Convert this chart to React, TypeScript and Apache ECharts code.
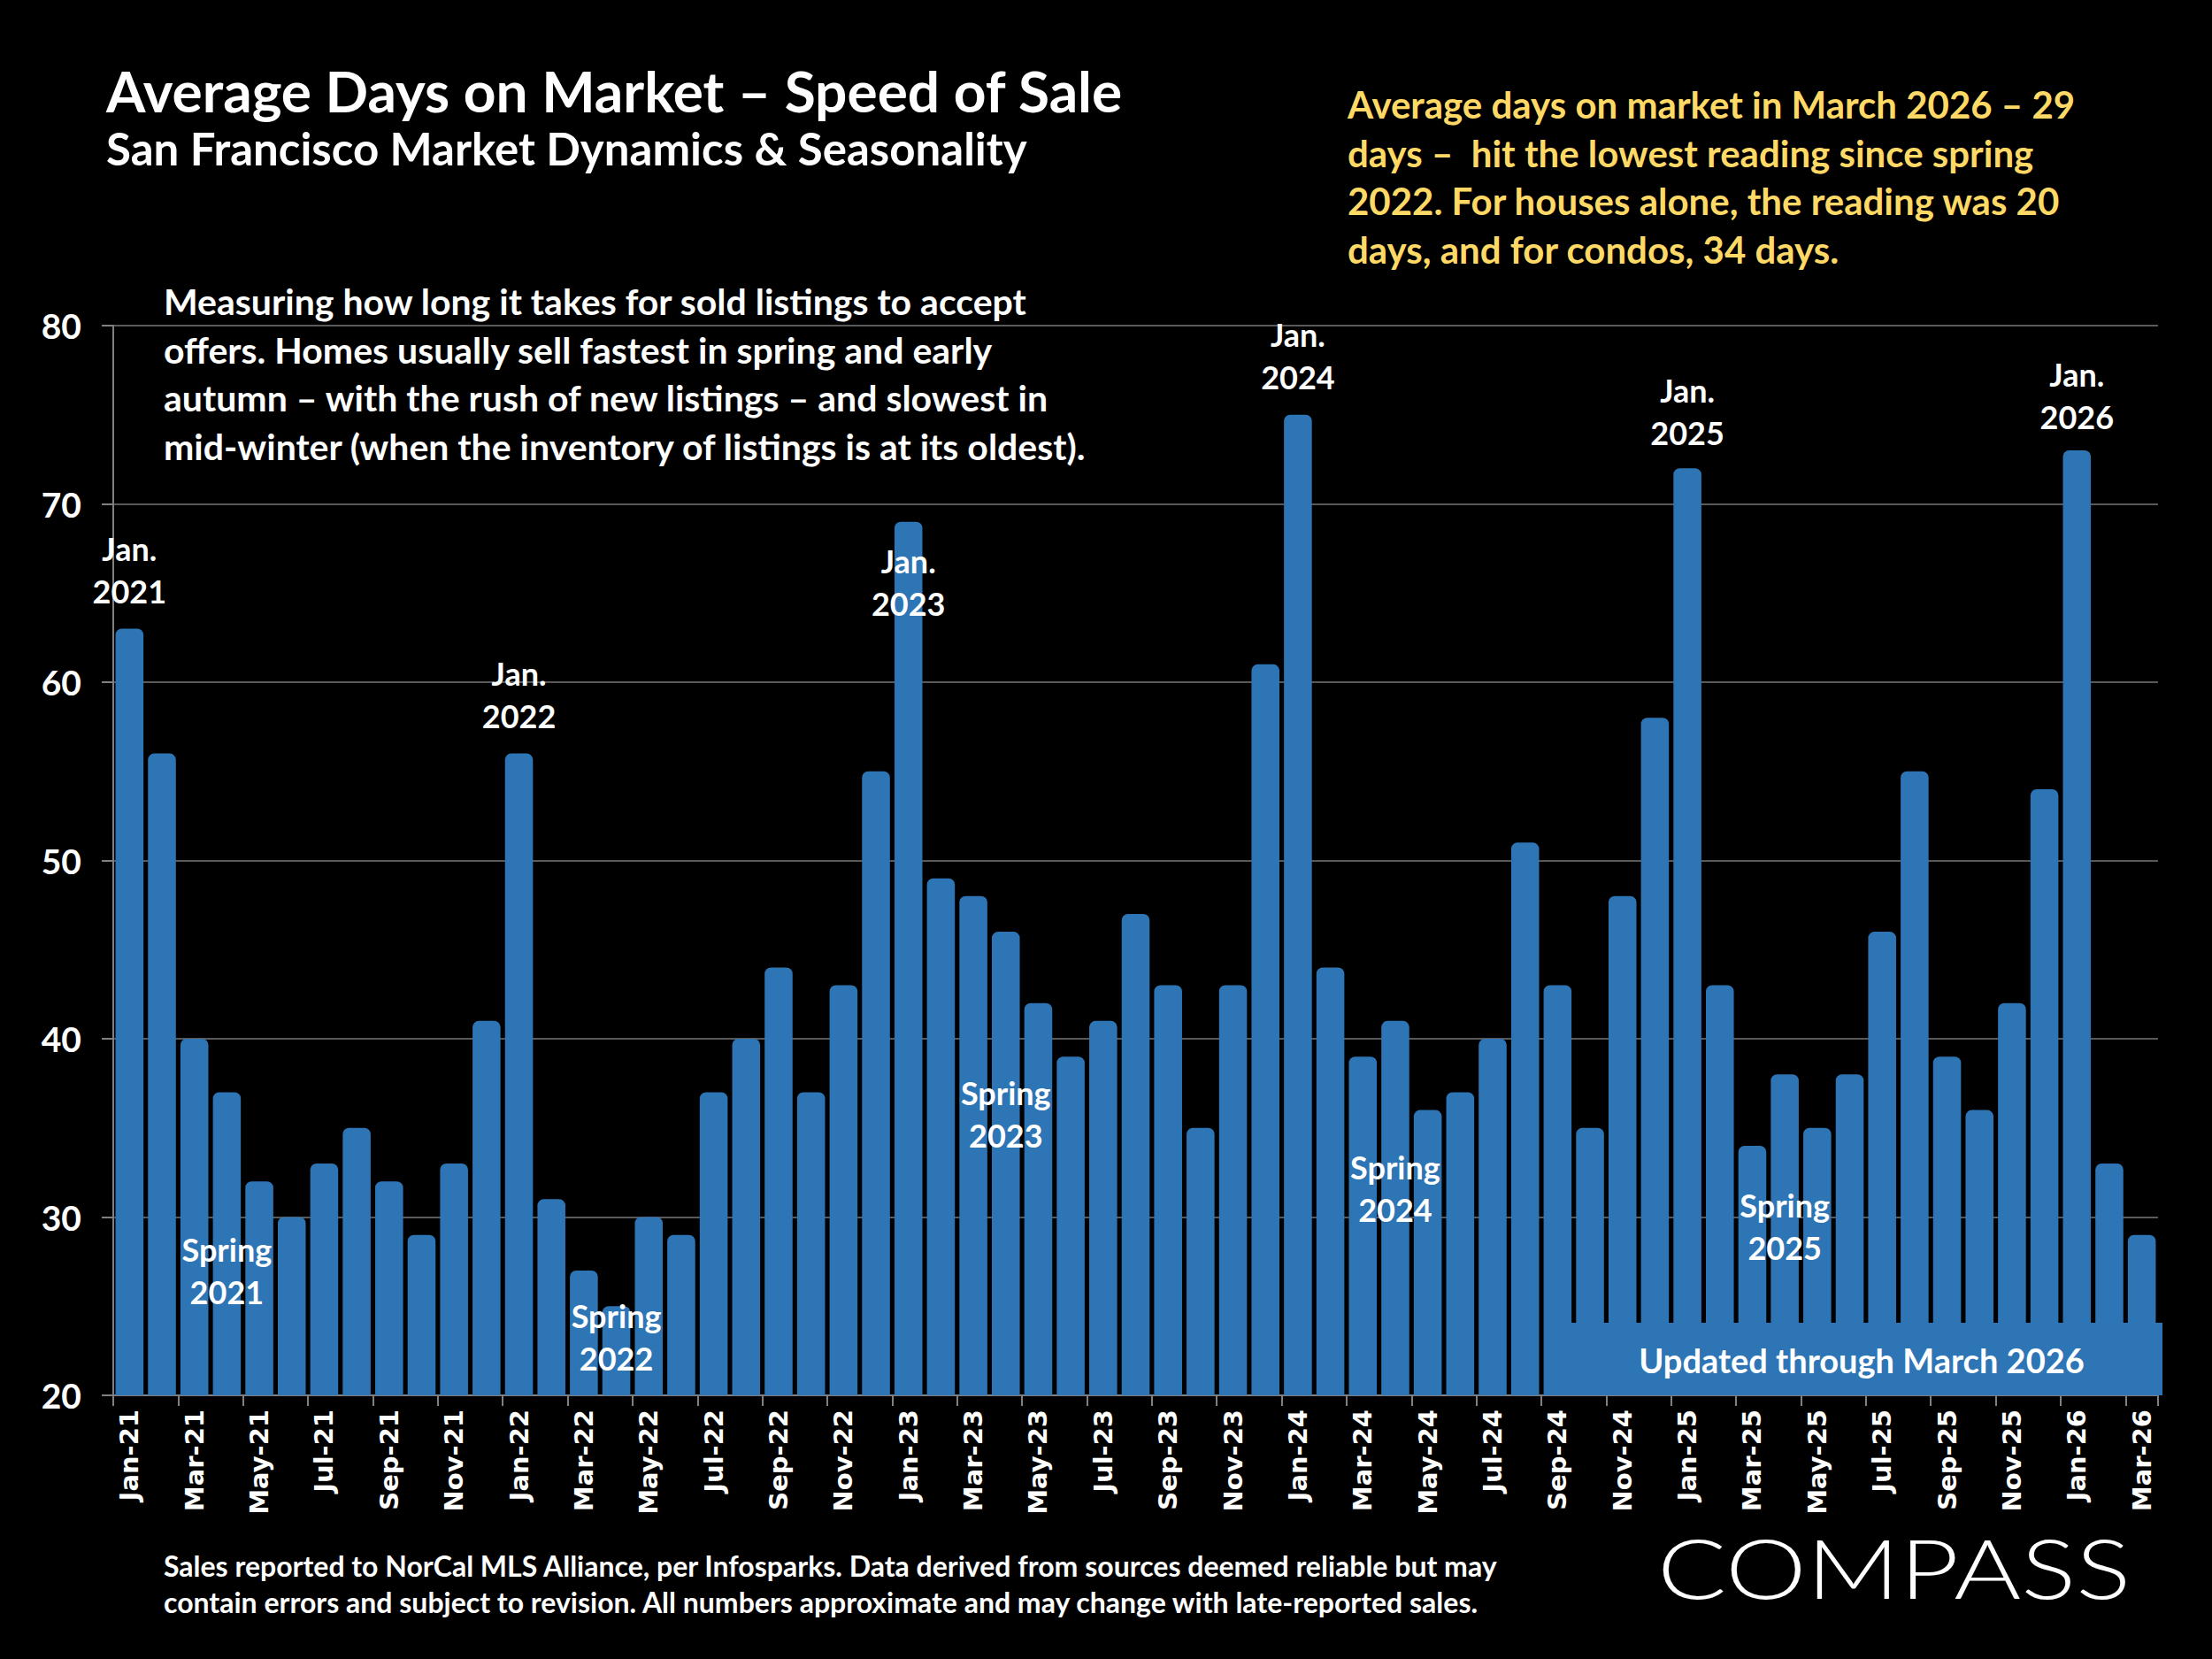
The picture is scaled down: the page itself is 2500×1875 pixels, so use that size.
import * as echarts from "echarts";
import { useEffect, useRef } from "react";

// monthly categories, Jan 2021 .. Mar 2026
const months = [
    "Jan-21", "Feb-21", "Mar-21", "Apr-21", "May-21", "Jun-21", "Jul-21", "Aug-21", "Sep-21", "Oct-21", "Nov-21", "Dec-21",
    "Jan-22", "Feb-22", "Mar-22", "Apr-22", "May-22", "Jun-22", "Jul-22", "Aug-22", "Sep-22", "Oct-22", "Nov-22", "Dec-22",
    "Jan-23", "Feb-23", "Mar-23", "Apr-23", "May-23", "Jun-23", "Jul-23", "Aug-23", "Sep-23", "Oct-23", "Nov-23", "Dec-23",
    "Jan-24", "Feb-24", "Mar-24", "Apr-24", "May-24", "Jun-24", "Jul-24", "Aug-24", "Sep-24", "Oct-24", "Nov-24", "Dec-24",
    "Jan-25", "Feb-25", "Mar-25", "Apr-25", "May-25", "Jun-25", "Jul-25", "Aug-25", "Sep-25", "Oct-25", "Nov-25", "Dec-25",
    "Jan-26", "Feb-26", "Mar-26",
];

// average days on market
const avgDays = [
    63, 56, 40, 37, 32, 30, 33, 35, 32, 29, 33, 41,
    56, 31, 27, 25, 30, 29, 37, 40, 44, 37, 43, 55,
    69, 49, 48, 46, 42, 39, 41, 47, 43, 35, 43, 61,
    75, 44, 39, 41, 36, 37, 40, 51, 43, 35, 48, 58,
    72, 43, 34, 38, 35, 38, 46, 55, 39, 36, 42, 54,
    73, 33, 29,
];

// annotations: [category, text, level on the value axis]
const notes: [string, string, number][] = [
    ["Jan-21", "Jan.\n2021", 66.3],
    ["Jan-22", "Jan.\n2022", 59.3],
    ["Jan-23", "Jan.\n2023", 65.6],
    ["Jan-24", "Jan.\n2024", 78.3],
    ["Jan-25", "Jan.\n2025", 75.2],
    ["Jan-26", "Jan.\n2026", 76.1],
    ["Apr-21", "Spring\n2021", 27.0],
    ["Apr-22", "Spring\n2022", 23.3],
    ["Apr-23", "Spring\n2023", 35.8],
    ["Apr-24", "Spring\n2024", 31.6],
    ["Apr-25", "Spring\n2025", 29.5],
];

const introLines = [
    "Measuring how long it takes for sold listings to accept",
    "offers. Homes usually sell fastest in spring and early",
    "autumn – with the rush of new listings – and slowest in",
    "mid-winter (when the inventory of listings is at its oldest).",
];

const noteLines = [
    "Average days on market in March 2026 – 29",
    "days –  hit the lowest reading since spring",
    "2022. For houses alone, the reading was 20",
    "days, and for condos, 34 days.",
];

const footLines = [
    "Sales reported to NorCal MLS Alliance, per Infosparks. Data derived from sources deemed reliable but may",
    "contain errors and subject to revision. All numbers approximate and may change with late-reported sales.",
];

const FONT = "Lato, 'Open Sans', sans-serif";
const BLUE = "#2E75B6";

const App: React.FC = () => {
    const chartRef = useRef<HTMLDivElement>(null);

    useEffect(() => {
        document.body.style.margin = "0";
        document.body.style.background = "#000";
        const chart = echarts.init(chartRef.current!, null, { renderer: "svg" });

        const textLines = (lines: string[], x: number, y: number, step: number, size: number, color: string) =>
            lines.map((t, i) => ({
                type: "text",
                left: x,
                top: y + i * step,
                z: 50,
                style: { text: t, fill: color, font: `bold ${size}px ${FONT}` },
            }));

        const option = {
            animation: false,
            backgroundColor: "#000",
            grid: { left: 128, right: 61, top: 368, bottom: 298 },
            xAxis: {
                type: "category",
                data: months,
                axisLine: { lineStyle: { color: "#808080", width: 2 } },
                axisTick: { show: true, interval: 1, length: 12, lineStyle: { color: "#808080", width: 2 } },
                axisLabel: {
                    interval: 1,
                    rotate: 90,
                    margin: 16,
                    color: "#fff",
                    fontWeight: "bold",
                    fontSize: 29,
                    fontFamily: "'DejaVu Sans', sans-serif",
                },
            },
            yAxis: {
                type: "value",
                min: 20,
                max: 80,
                interval: 10,
                axisLine: { show: true, lineStyle: { color: "#808080", width: 2 } },
                axisTick: { show: true, length: 13, lineStyle: { color: "#808080", width: 2 } },
                splitLine: { lineStyle: { color: "#595959", width: 2 } },
                axisLabel: { color: "#fff", fontWeight: "bold", fontSize: 39, fontFamily: FONT, margin: 36 },
            },
            series: [
                {
                    type: "bar",
                    data: avgDays,
                    barWidth: "86%",
                    itemStyle: { color: BLUE, borderRadius: [7, 7, 0, 0] },
                    markPoint: {
                        symbol: "circle",
                        symbolSize: 1,
                        itemStyle: { color: "rgba(0,0,0,0)" },
                        label: {
                            show: true,
                            position: "inside",
                            color: "#fff",
                            fontWeight: "bold",
                            fontSize: 36,
                            lineHeight: 48,
                            fontFamily: FONT,
                            formatter: (p: any) => p.name,
                        },
                        data: notes.map(([c, t, v]) => ({ name: t, coord: [c, v] })),
                    },
                },
            ],
            graphic: [
                {
                    type: "text",
                    left: 120,
                    top: 70,
                    style: { text: "Average Days on Market – Speed of Sale", fill: "#fff", font: `bold 64px ${FONT}` },
                },
                {
                    type: "text",
                    left: 120,
                    top: 142,
                    style: { text: "San Francisco Market Dynamics & Seasonality", fill: "#fff", font: `bold 51px ${FONT}` },
                },
                ...textLines(noteLines, 1523, 97, 54.7, 42, "#FFD966"),
                ...textLines(introLines, 185, 320, 54.7, 41, "#fff"),
                ...textLines(footLines, 185, 1753, 41, 32, "#fff"),
                {
                    type: "rect",
                    z: 40,
                    shape: { x: 1745, y: 1495, width: 699, height: 82 },
                    style: { fill: BLUE },
                },
                {
                    type: "text",
                    z: 41,
                    x: 2104,
                    y: 1537,
                    style: {
                        text: "Updated through March 2026",
                        fill: "#fff",
                        font: `bold 38px ${FONT}`,
                        align: "center",
                        verticalAlign: "middle",
                    },
                },
                {
                    type: "text",
                    x: 1873,
                    y: 1771,
                    scaleX: 1.26,
                    style: {
                        text: "COMPASS",
                        fill: "#fff",
                        font: `300 92px ${FONT}`,
                        verticalAlign: "middle",
                    },
                },
            ],
        };

        chart.setOption(option);

        return () => {
            chart.dispose();
        };
    }, []);

    return <div ref={chartRef} style={{ width: "2500px", height: "1875px" }} />;
};

export default App;
